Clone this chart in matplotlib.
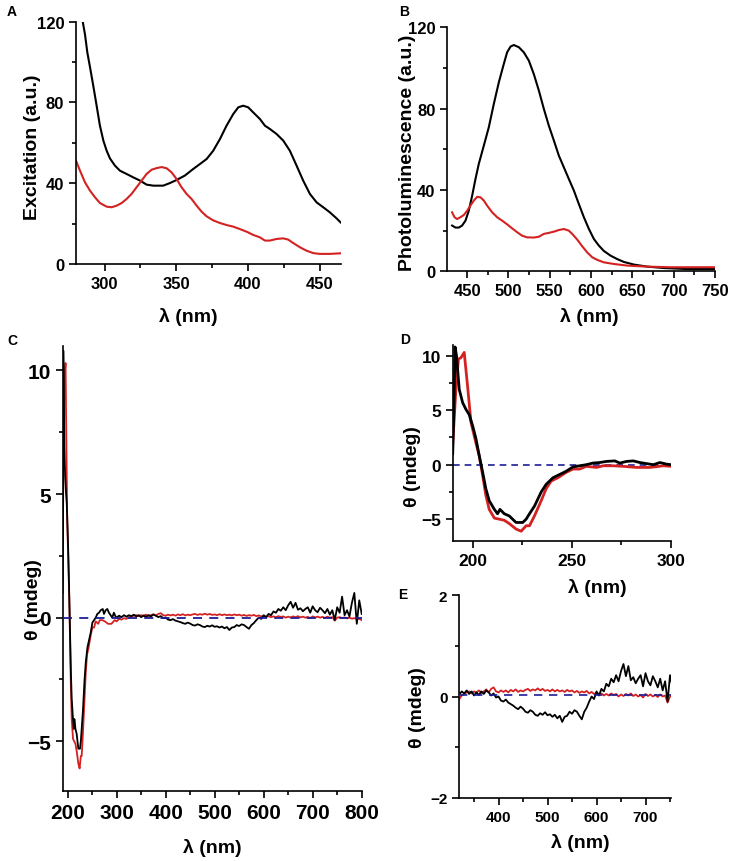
import matplotlib
matplotlib.use("Agg")
import matplotlib.pyplot as plt
from matplotlib.ticker import MultipleLocator

plt.rcParams['font.family'] = ['Liberation Sans', 'DejaVu Sans']

# ---------------- Data ----------------
# Panel A: excitation spectra
exc_nm_black = [284.7, 286.3, 287.9, 289.8, 292.1, 294.4, 296.7, 299.1, 301.4, 303.7, 307.2,
                310.7, 315.3, 320, 324.7, 329.3, 334, 340.9, 345.6, 350.2, 356, 361.9, 366.5,
                371.2, 375.8, 380.5, 385.1, 389.8, 393.3, 396.7, 400.2, 403.7, 408.4, 411.9,
                415.3, 420, 424.7, 429.3, 434, 438.6, 443.3, 448, 452.6, 457.2, 461.9, 464.7]
exc_black = [120, 113.6, 104.8, 97.4, 88.1, 78.4, 68.5, 61.1, 56.1, 52.3, 48.7,
             46.2, 44.6, 42.9, 41.3, 39.3, 38.8, 38.8, 40.1, 41.6, 43.8, 47.1, 49.5,
             52, 56.1, 61.9, 68.5, 74.3, 77.6, 78.4, 77.6, 75.1, 71.8, 68.5,
             66.9, 64.4, 61.1, 56.1, 48.7, 41.3, 34.7, 30.5, 28.1, 25.6, 22.6, 20.6]
exc_nm_red = [280, 282.8, 286.3, 289.8, 293.3, 296.7, 301.4, 304.9, 308.4, 311.9, 315.3,
              318.8, 322.3, 325.8, 329.3, 332.8, 336.3, 339.8, 343.3, 346.7, 350.2, 353.7,
              357.2, 360.7, 364.2, 367.7, 371.2, 375.8, 380.5, 385.1, 389.8, 394.4, 399.1,
              403.7, 408.4, 411.9, 415.3, 420, 424.7, 428.1, 431.6, 436.3, 440.9, 445.6,
              450.2, 457.2, 464.7]
exc_red = [51.2, 46.2, 40.4, 36.3, 33, 30.2, 28.4, 28.1, 28.9, 30.2, 32.2,
           34.7, 38, 41.3, 44.6, 46.7, 47.5, 48.0, 47.4, 45.4, 42.1, 38,
           34.7, 32.2, 28.9, 25.9, 23.6, 21.6, 20.3, 19.3, 18.5, 17.3, 16,
           14.4, 13.2, 11.6, 11.6, 12.4, 12.7, 12.1, 10.4, 8.3, 6.6, 5.4,
           5, 5, 5.3]

# Panel B: photoluminescence spectra
pl_nm_black = [431.8, 435.9, 439.9, 443.9, 448, 452, 456.1, 460.1, 464.1, 470.2, 476.2, 482.3,
               488.4, 494.4, 498.4, 502.5, 506.5, 512.6, 518.6, 524.7, 530.7, 536.8, 542.9,
               548.9, 555, 561, 567.1, 573.1, 579.2, 585.2, 591.3, 597.4, 603.4, 609.5,
               615.5, 623.6, 631.7, 639.7, 651.9, 668, 688.2, 716.5, 750.8]
pl_black = [22.5, 21.5, 21.5, 22.5, 24.9, 29.8, 37.2, 45.4, 52.8, 61.8, 70.8, 82.3,
            93, 102, 107.7, 110.5, 111.3, 110.2, 107.7, 103.6, 97, 88.9, 79.8,
            71.6, 64.3, 56.9, 51.1, 45.4, 39.7, 33.1, 26.6, 20.8, 15.9, 12.6,
            10, 7.7, 6, 4.6, 3.3, 2.3, 1.6, 1.1, 1.1]
pl_nm_red = [431.8, 434.7, 437.9, 441.9, 446, 450, 454, 458.1, 462.1, 466.1, 470.2, 474.2,
             480.3, 486.3, 492.4, 498.4, 504.5, 510.6, 516.6, 522.7, 530.7, 536.8, 542.9,
             548.9, 555, 561, 567.1, 573.1, 577.2, 583.2, 589.3, 595.3, 601.4, 607.5,
             615.5, 627.6, 643.8, 668, 696.3, 750.8]
pl_red = [29, 26.6, 25.7, 26.6, 27.7, 29.8, 32.3, 34.8, 36.6, 36.4, 34.8, 32.3,
          29, 26.6, 24.9, 23.1, 21.1, 19.2, 17.5, 16.7, 16.6, 17.0, 18.4,
          18.9, 19.5, 20.3, 20.8, 20, 18.4, 15.6, 12.3, 9.3, 6.9, 5.6,
          4.4, 3.6, 2.8, 2.3, 2, 2]

# Panels C, D, E: CD spectra (same data shown over different ranges)
cd_nm_uv_black = [190, 190.6, 191.2, 191.9, 193.3, 195, 196.6, 198.3, 200, 201.7, 203.4, 205.1,
                  206.7, 208.4, 211, 212.6, 213.8, 216, 218.5, 221.9, 225.3, 227, 228.7, 231.2,
                  234.6, 237.1, 240.5, 243.8, 247.2, 250.6, 254, 257.3, 260.7, 264.1, 267.5,
                  271.7, 274.2, 277.6, 281, 284.3, 287.7, 291.1, 294.4, 297.8, 300]
cd_uv_black = [1.0, 5.0, 10.8, 10.0, 6.9, 5.7, 5.1, 4.6, 3.6, 2.4, 0.8, -0.7,
               -2.2, -3.3, -4.1, -4.5, -4.1, -4.5, -4.7, -5.3, -5.3, -5.0, -4.5, -3.8,
               -2.5, -1.8, -1.2, -0.9, -0.6, -0.2, -0.1, 0.0, 0.15, 0.2, 0.3,
               0.35, 0.15, 0.3, 0.35, 0.2, 0.1, 0.0, 0.2, 0.05, 0.0]
cd_nm_uv_red = [189.9, 191.6, 192.9, 194.1, 195.8, 197.5, 199.2, 201.7, 203.4, 205.1, 206.7,
                208.4, 211, 213.5, 216, 218.5, 221.9, 224.5, 227, 228.7, 231.2, 234.6, 237.1,
                239.6, 243, 247.2, 250.6, 254, 257.3, 262.4, 265.8, 270.8, 275.9, 282.6,
                289.4, 296.1, 300]
cd_uv_red = [1.5, 6.9, 9.7, 9.8, 10.3, 7.2, 3.9, 2.0, 0.8, -1.0, -2.8,
             -4.1, -4.9, -5.0, -5.1, -5.4, -5.9, -6.1, -5.6, -5.6, -4.7, -3.3, -2.2,
             -1.5, -1.2, -0.7, -0.4, -0.4, -0.15, -0.25, -0.1, -0.1, -0.15, -0.25,
             -0.25, -0.1, -0.15]
cd_nm_vis = list(range(305, 805, 5))
cd_vis_black = [0.08, 0.02, 0.1, 0.04, 0.1, 0.06, 0.12, 0.05, 0.1, 0.02,
                0.08, 0.03, 0.1, 0.05, 0.12, 0.08, 0.02, 0.06, -0.02, 0.0,
                -0.08, -0.1, -0.06, -0.12, -0.15, -0.18, -0.22, -0.25, -0.2, -0.24,
                -0.3, -0.32, -0.27, -0.3, -0.36, -0.38, -0.33, -0.36, -0.31, -0.37,
                -0.35, -0.4, -0.36, -0.43, -0.38, -0.5, -0.4, -0.38, -0.3, -0.34,
                -0.27, -0.3, -0.38, -0.45, -0.3, -0.22, -0.1, 0.0, -0.05, 0.1,
                0.02, 0.15, 0.1, 0.25, 0.2, 0.35, 0.28, 0.42, 0.3, 0.5,
                0.64, 0.4, 0.6, 0.32, 0.38, 0.26, 0.35, 0.42, 0.2, 0.46,
                0.3, 0.22, 0.4, 0.3, 0.18, 0.35, 0.12, 0.3, -0.1, 0.42,
                0.2, 0.85, 0.1, 0.3, 0.05, 0.6, 1.0, -0.25, 0.7, 0.15]
cd_vis_red = [-0.05, -0.08, -0.02, -0.05, 0.02, 0.05, 0.08, 0.1, 0.06, 0.1,
              0.08, 0.12, 0.07, 0.1, 0.14, 0.08, 0.15, 0.18, 0.1, 0.08,
              0.12, 0.09, 0.12, 0.08, 0.13, 0.1, 0.14, 0.09, 0.12, 0.1,
              0.13, 0.15, 0.11, 0.14, 0.12, 0.16, 0.12, 0.15, 0.11, 0.13,
              0.1, 0.14, 0.1, 0.13, 0.1, 0.12, 0.09, 0.13, 0.1, 0.12,
              0.08, 0.11, 0.07, 0.1, 0.08, 0.11, 0.06, 0.09, 0.05, 0.07,
              0.03, 0.06, 0.02, 0.05, 0.02, 0.06, 0.03, 0.05, 0.0, 0.04,
              0.01, 0.05, 0.02, 0.06, 0.01, 0.04, 0.0, 0.03, -0.02, 0.05,
              0.01, 0.04, 0.0, 0.03, -0.01, 0.04, 0.0, 0.02, -0.12, 0.0,
              0.02, -0.02, 0.01, -0.03, 0.0, -0.04, -0.02, -0.06, -0.05, -0.1]

cd_nm_black = cd_nm_uv_black + cd_nm_vis
cd_black = cd_uv_black + cd_vis_black
cd_nm_red = cd_nm_uv_red + cd_nm_vis
cd_red = cd_uv_red + cd_vis_red

RED = '#d42222'
BLACK = '#000000'
NAVY = '#1c1c96'

W, H = 736, 862
fig = plt.figure(figsize=(W / 100, H / 100), dpi=100)
fig.patch.set_facecolor('white')


def rect(x0, x1, y0, y1):
    return [x0 / W, 1 - y1 / H, (x1 - x0) / W, (y1 - y0) / H]


def fpt(x, y):
    return x / W, 1 - y / H


def style(ax, fs, lw=1.2):
    for s in ['top', 'right']:
        ax.spines[s].set_visible(False)
    for s in ['left', 'bottom']:
        ax.spines[s].set_linewidth(lw)
    ax.tick_params(which='major', direction='out', length=5, width=lw, labelsize=fs)
    ax.tick_params(which='minor', direction='out', length=3, width=lw)
    for lab in ax.get_xticklabels() + ax.get_yticklabels():
        lab.set_fontweight('bold')
    ax.set_facecolor('white')


# ---- Panel A ----
axA = fig.add_axes(rect(76, 341, 22.7, 265))
axA.plot(exc_nm_black, exc_black, color=BLACK, lw=1.5)
axA.plot(exc_nm_red, exc_red, color=RED, lw=1.5)
axA.set_xlim(280, 465)
axA.set_ylim(0, 120)
axA.xaxis.set_major_locator(MultipleLocator(50))
axA.xaxis.set_minor_locator(MultipleLocator(25))
axA.yaxis.set_major_locator(MultipleLocator(40))
axA.yaxis.set_minor_locator(MultipleLocator(20))
style(axA, 12)

# ---- Panel B ----
axB = fig.add_axes(rect(447.3, 715, 28.3, 272.3))
axB.plot(pl_nm_black, pl_black, color=BLACK, lw=1.5)
axB.plot(pl_nm_red, pl_red, color=RED, lw=1.5)
axB.set_xlim(426, 750)
axB.set_ylim(0, 120)
axB.xaxis.set_major_locator(MultipleLocator(50))
axB.xaxis.set_minor_locator(MultipleLocator(25))
axB.yaxis.set_major_locator(MultipleLocator(40))
axB.yaxis.set_minor_locator(MultipleLocator(20))
style(axB, 12)

# ---- Panel C ----
axC = fig.add_axes(rect(62.7, 361.7, 346.7, 791.7))
axC.axhline(0, color=NAVY, lw=1.3, ls=(0, (5, 4)), zorder=3)
axC.plot(cd_nm_red, cd_red, color=RED, lw=1.3, zorder=2)
axC.plot(cd_nm_black, cd_black, color=BLACK, lw=1.3, zorder=2)
axC.set_xlim(190, 800)
axC.set_ylim(-7, 11)
axC.xaxis.set_major_locator(MultipleLocator(100))
axC.xaxis.set_minor_locator(MultipleLocator(50))
axC.yaxis.set_major_locator(MultipleLocator(5))
axC.yaxis.set_minor_locator(MultipleLocator(2.5))
style(axC, 15)

# ---- Panel D ----
axD = fig.add_axes(rect(452.7, 671, 345.8, 542))
axD.axhline(0, color=NAVY, lw=1.2, ls=(0, (4, 3)), zorder=1)
axD.plot(cd_nm_red, cd_red, color=RED, lw=2.0, zorder=2)
axD.plot(cd_nm_black, cd_black, color=BLACK, lw=2.0, zorder=3)
axD.set_xlim(190, 300)
axD.set_ylim(-7, 11)
axD.xaxis.set_major_locator(MultipleLocator(50))
axD.xaxis.set_minor_locator(MultipleLocator(25))
axD.yaxis.set_major_locator(MultipleLocator(5))
axD.yaxis.set_minor_locator(MultipleLocator(2.5))
style(axD, 12.5)

# ---- Panel E ----
axE = fig.add_axes(rect(459.3, 671, 596, 799))
axE.axhline(0.03, color=NAVY, lw=1.2, ls=(0, (5, 4)), zorder=3)
axE.plot(cd_nm_red, cd_red, color=RED, lw=1.3, zorder=2)
axE.plot(cd_nm_black, cd_black, color=BLACK, lw=1.3, zorder=2)
axE.set_xlim(320, 752)
axE.set_ylim(-2, 2)
axE.xaxis.set_major_locator(MultipleLocator(100))
axE.xaxis.set_minor_locator(MultipleLocator(50))
axE.yaxis.set_major_locator(MultipleLocator(2))
axE.yaxis.set_minor_locator(MultipleLocator(1))
style(axE, 11)

# ---- Axis labels (placed in pixel coordinates) ----
lab_kw = dict(fontsize=14, fontweight='bold', ha='center', va='center')
fig.text(*fpt(33, 147), 'Excitation (a.u.)', rotation=90, **lab_kw)
fig.text(*fpt(188, 317), 'λ (nm)', **lab_kw)
fig.text(*fpt(408, 153), 'Photoluminescence (a.u.)', rotation=90, **lab_kw)
fig.text(*fpt(589, 317), 'λ (nm)', **lab_kw)
fig.text(*fpt(33, 600), 'θ (mdeg)', rotation=90, **lab_kw)
fig.text(*fpt(212, 848), 'λ (nm)', **lab_kw)
fig.text(*fpt(412, 467), 'θ (mdeg)', rotation=90, **lab_kw)
fig.text(*fpt(597, 588), 'λ (nm)', **lab_kw)
fig.text(*fpt(417, 708), 'θ (mdeg)', rotation=90, **lab_kw)
fig.text(*fpt(580, 843), 'λ (nm)', **lab_kw)

# ---- Panel letters ----
let_kw = dict(fontsize=10, fontweight='bold', ha='center', va='center')
fig.text(*fpt(12, 12), 'A', **let_kw)
fig.text(*fpt(404, 12), 'B', **let_kw)
fig.text(*fpt(12, 341), 'C', **let_kw)
fig.text(*fpt(405, 340), 'D', **let_kw)
fig.text(*fpt(403, 595), 'E', **let_kw)

fig.savefig('out.png', dpi=100, facecolor='white')
